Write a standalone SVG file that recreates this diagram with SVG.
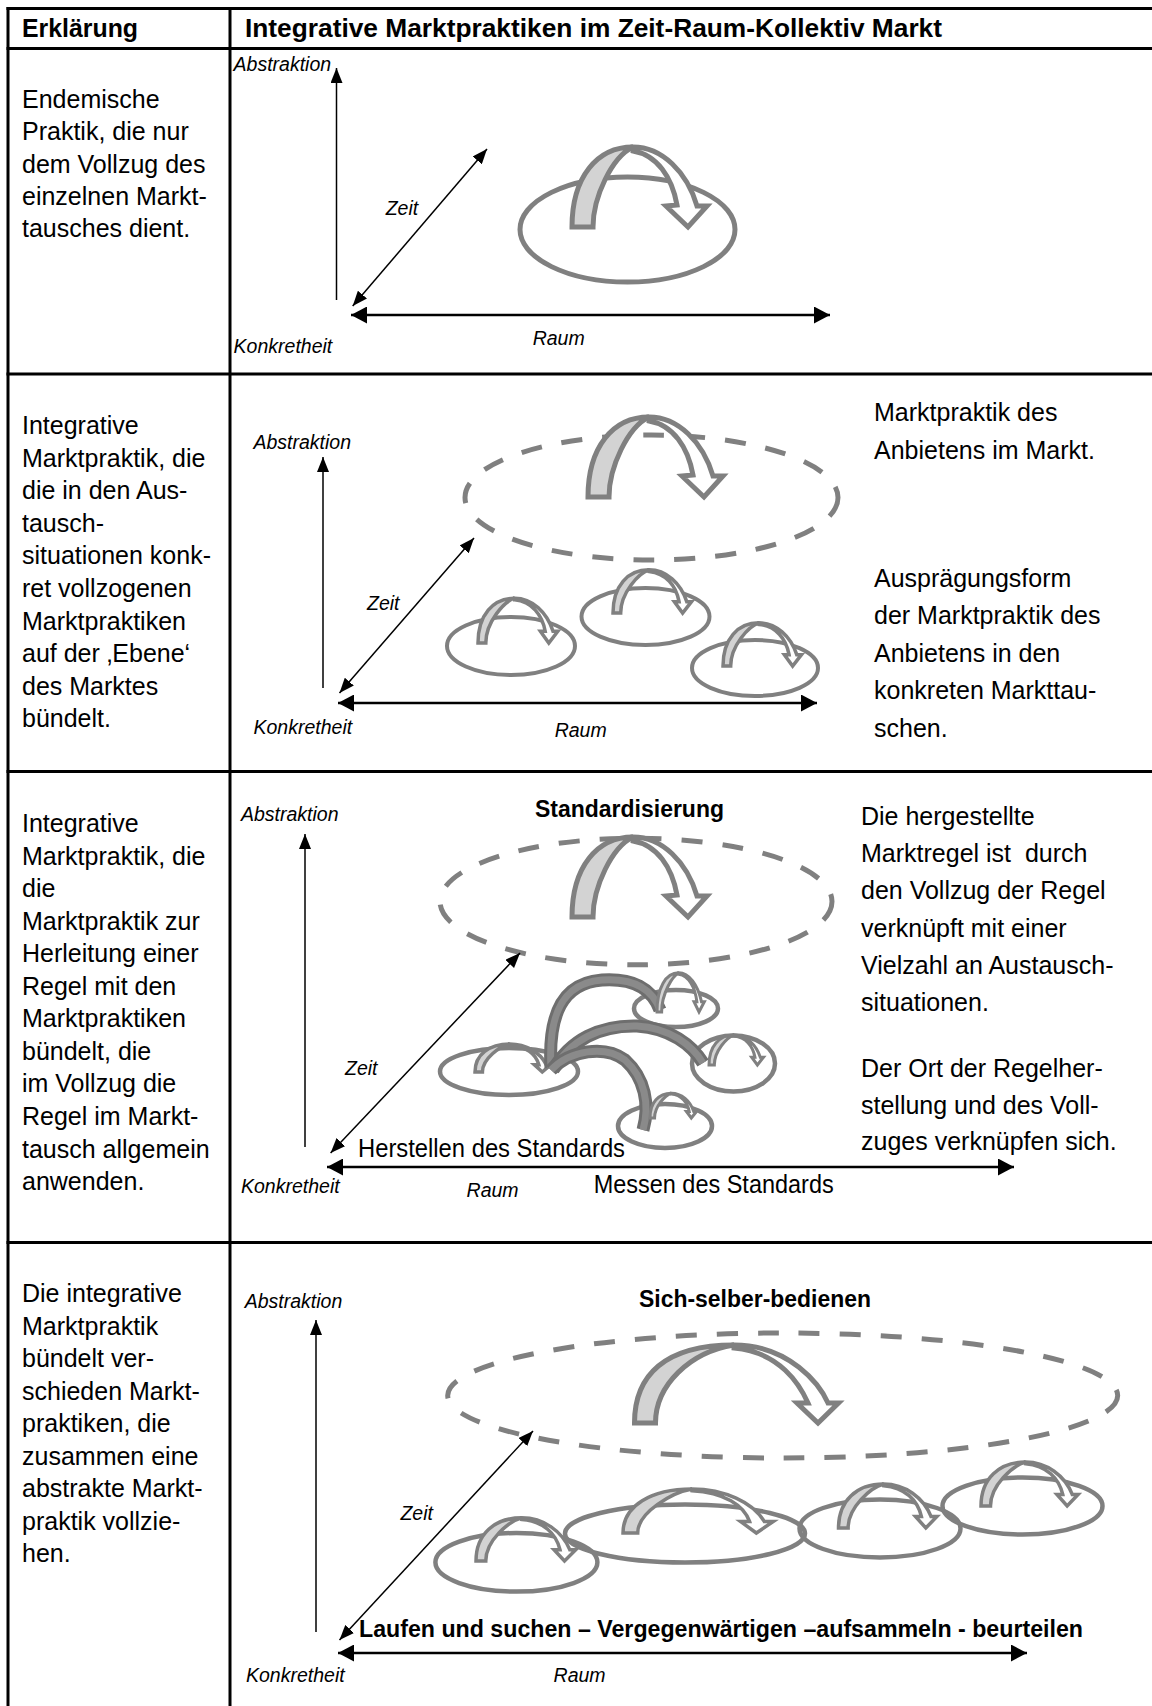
<svg xmlns="http://www.w3.org/2000/svg" xmlns:xlink="http://www.w3.org/1999/xlink" width="1152" height="1706" viewBox="0 0 1152 1706">
<style>
.t{font-family:"Liberation Sans",Arial,sans-serif;font-size:25px;fill:#000}
.i{font-family:"Liberation Sans",Arial,sans-serif;font-size:19.5px;font-style:italic;fill:#000}
.b{font-family:"Liberation Sans",Arial,sans-serif;font-size:23px;font-weight:bold;fill:#000}
.h{font-family:"Liberation Sans",Arial,sans-serif;font-size:26px;font-weight:bold;fill:#000}
.grid{stroke:#000;stroke-width:3;fill:none}
.ax{stroke:#000;stroke-width:1.5;fill:none}
.rx{stroke:#000;stroke-width:2.7;fill:none}
.el{fill:none;stroke:#808080}
.ds{fill:none;stroke:#808080;stroke-width:5;stroke-dasharray:21 20}
.band{fill:none;stroke:#6e6e6e;stroke-width:13}
.bandi{fill:none;stroke:#8a8a8a;stroke-width:7}
</style>
<defs>
<marker id="a" markerUnits="userSpaceOnUse" markerWidth="15" markerHeight="12" refX="15" refY="6" orient="auto-start-reverse"><path d="M0,0 L15,6 L0,12 Z" fill="#000"/></marker>
<marker id="A" markerUnits="userSpaceOnUse" markerWidth="16" markerHeight="17" refX="16" refY="8.5" orient="auto-start-reverse"><path d="M0,0 L16,8.5 L0,17 Z" fill="#000"/></marker>
<g id="archA">
<path d="M0,0 C0,-50 25,-80 61,-80 C40,-70 21,-30 21,0 Z" fill="#d3d3d3" stroke="#808080" vector-effect="non-scaling-stroke"/>
<path d="M61,-80 C90,-80 115,-55 125,-21 L135,-21 L116,0 L94,-21 L105,-22 C100,-50 85,-72 61,-76 Z" fill="#fff" stroke="#808080" vector-effect="non-scaling-stroke"/>
</g>
<g id="archB">
<path d="M0,0 C0,-50 25,-80 61,-80 C44,-74 13,-38 13,0 Z" fill="#d3d3d3" stroke="#808080" vector-effect="non-scaling-stroke"/>
<path d="M61,-80 C90,-80 115,-55 125,-21 L133,-21 L118,0 L104,-21 L112,-21 C107,-50 90,-74 61,-77 Z" fill="#fff" stroke="#808080" vector-effect="non-scaling-stroke"/>
</g>
</defs>
<rect width="1152" height="1706" fill="#fff"/>

<g id="table">
<line class="grid" x1="6.5" y1="8.5" x2="1152" y2="8.5"/>
<line class="grid" x1="6.5" y1="48.5" x2="1152" y2="48.5"/>
<line class="grid" x1="6.5" y1="374" x2="1152" y2="374"/>
<line class="grid" x1="6.5" y1="771.5" x2="1152" y2="771.5"/>
<line class="grid" x1="6.5" y1="1242.5" x2="1152" y2="1242.5"/>
<line class="grid" x1="8" y1="7" x2="8" y2="1706"/>
<line class="grid" x1="230" y1="7" x2="230" y2="1706"/>
<text class="h" x="22" y="37" textLength="116" lengthAdjust="spacingAndGlyphs">Erklärung</text>
<text class="h" x="245" y="37" textLength="697" lengthAdjust="spacingAndGlyphs">Integrative Marktpraktiken im Zeit-Raum-Kollektiv Markt</text>
</g>

<g id="row1-text">
<text class="t" x="22" y="108"><tspan x="22">Endemische</tspan><tspan x="22" dy="32.3">Praktik, die nur</tspan><tspan x="22" dy="32.3">dem Vollzug des</tspan><tspan x="22" dy="32.3">einzelnen Markt-</tspan><tspan x="22" dy="32.3">tausches dient.</tspan></text>
</g>
<g id="row2-text">
<text class="t" x="22" y="434"><tspan x="22">Integrative</tspan><tspan x="22" dy="32.6">Marktpraktik, die</tspan><tspan x="22" dy="32.6">die in den Aus-</tspan><tspan x="22" dy="32.6">tausch-</tspan><tspan x="22" dy="32.6">situationen konk-</tspan><tspan x="22" dy="32.6">ret vollzogenen</tspan><tspan x="22" dy="32.6">Marktpraktiken</tspan><tspan x="22" dy="32.6">auf der ‚Ebene‘</tspan><tspan x="22" dy="32.6">des Marktes</tspan><tspan x="22" dy="32.6">bündelt.</tspan></text>
<text class="t" x="874" y="421"><tspan x="874">Marktpraktik des</tspan><tspan x="874" dy="37.7">Anbietens im Markt.</tspan></text>
<text class="t" x="874" y="587"><tspan x="874">Ausprägungsform</tspan><tspan x="874" dy="37.4">der Marktpraktik des</tspan><tspan x="874" dy="37.4">Anbietens in den</tspan><tspan x="874" dy="37.4">konkreten Markttau-</tspan><tspan x="874" dy="37.4">schen.</tspan></text>
</g>
<g id="row3-text">
<text class="t" x="22" y="832"><tspan x="22">Integrative</tspan><tspan x="22" dy="32.55">Marktpraktik, die</tspan><tspan x="22" dy="32.55">die</tspan><tspan x="22" dy="32.55">Marktpraktik zur</tspan><tspan x="22" dy="32.55">Herleitung einer</tspan><tspan x="22" dy="32.55">Regel mit den</tspan><tspan x="22" dy="32.55">Marktpraktiken</tspan><tspan x="22" dy="32.55">bündelt, die</tspan><tspan x="22" dy="32.55">im Vollzug die</tspan><tspan x="22" dy="32.55">Regel im Markt-</tspan><tspan x="22" dy="32.55">tausch allgemein</tspan><tspan x="22" dy="32.55">anwenden.</tspan></text>
<text class="t" x="861" y="825" style="white-space:pre"><tspan x="861">Die hergestellte</tspan><tspan x="861" dy="37.2">Marktregel ist  durch</tspan><tspan x="861" dy="37.2">den Vollzug der Regel</tspan><tspan x="861" dy="37.2">verknüpft mit einer</tspan><tspan x="861" dy="37.2">Vielzahl an Austausch-</tspan><tspan x="861" dy="37.2">situationen.</tspan></text>
<text class="t" x="861" y="1077"><tspan x="861">Der Ort der Regelher-</tspan><tspan x="861" dy="36.5">stellung und des Voll-</tspan><tspan x="861" dy="36.5">zuges verknüpfen sich.</tspan></text>
</g>
<g id="row4-text">
<text class="t" x="22" y="1302"><tspan x="22">Die integrative</tspan><tspan x="22" dy="32.5">Marktpraktik</tspan><tspan x="22" dy="32.5">bündelt ver-</tspan><tspan x="22" dy="32.5">schieden Markt-</tspan><tspan x="22" dy="32.5">praktiken, die</tspan><tspan x="22" dy="32.5">zusammen eine</tspan><tspan x="22" dy="32.5">abstrakte Markt-</tspan><tspan x="22" dy="32.5">praktik vollzie-</tspan><tspan x="22" dy="32.5">hen.</tspan></text>
</g>

<!-- Row 1 diagram -->
<g id="r1-shapes">
<ellipse class="el" stroke-width="5" cx="627.5" cy="229.5" rx="107.5" ry="52.5"/>
<use xlink:href="#archA" transform="translate(572,227)" stroke-width="5"/>
</g>
<!-- Row 2 diagram -->
<g id="r2-shapes">
<ellipse class="ds" cx="651.5" cy="497.5" rx="186.5" ry="62.5"/>
<use xlink:href="#archA" transform="translate(588,497)" stroke-width="5"/>
<ellipse class="el" stroke-width="4" cx="511" cy="646" rx="64" ry="29"/>
<use xlink:href="#archB" transform="translate(478,643) scale(0.6,0.56)" stroke-width="3.5"/>
<ellipse class="el" stroke-width="4" cx="645.5" cy="616.5" rx="64" ry="28.5"/>
<use xlink:href="#archB" transform="translate(613,613) scale(0.59,0.54)" stroke-width="3.5"/>
<ellipse class="el" stroke-width="4" cx="755" cy="668" rx="63" ry="28"/>
<use xlink:href="#archB" transform="translate(723,666) scale(0.59,0.54)" stroke-width="3.5"/>
</g>
<!-- Row 3 diagram -->
<g id="r3-shapes">
<ellipse class="ds" cx="636" cy="901.5" rx="196" ry="63.3"/>
<use xlink:href="#archA" transform="translate(572,917)" stroke-width="5"/>
<ellipse class="el" stroke-width="4.5" cx="509" cy="1071.5" rx="69" ry="23.5"/>
<ellipse class="el" stroke-width="4.5" cx="676" cy="1008.5" rx="42" ry="18.5"/>
<ellipse class="el" stroke-width="4.5" cx="733.5" cy="1063.5" rx="41.5" ry="28"/>
<ellipse class="el" stroke-width="4.5" cx="665" cy="1126" rx="47" ry="22"/>
<use xlink:href="#archB" transform="translate(475,1072) scale(0.57,0.35)" stroke-width="3.5"/>
<path class="band" d="M551,1068 C548,1015 562,983 602,980 C632,978 652,988 660,1010"/>
<path class="bandi" d="M551,1068 C548,1015 562,983 602,980 C632,978 652,988 660,1010"/>
<path class="band" d="M553,1070 C570,1040 600,1025 637,1026 C670,1028 692,1045 703,1063"/>
<path class="bandi" d="M553,1070 C570,1040 600,1025 637,1026 C670,1028 692,1045 703,1063"/>
<path class="band" d="M551,1070 C570,1050 605,1045 625,1060 C645,1078 650,1105 643,1130"/>
<path class="bandi" d="M551,1070 C570,1050 605,1045 625,1060 C645,1078 650,1105 643,1130"/>
<use xlink:href="#archB" transform="translate(657,1012) scale(0.356,0.49)" stroke-width="3"/>
<use xlink:href="#archB" transform="translate(709,1065) scale(0.41,0.375)" stroke-width="3"/>
<use xlink:href="#archB" transform="translate(650,1118) scale(0.35,0.31)" stroke-width="3"/>
</g>
<!-- Row 4 diagram -->
<g id="r4-shapes">
<ellipse class="ds" cx="782.7" cy="1395.5" rx="335" ry="62.5"/>
<path d="M634.5,1423 C634.5,1375 665,1345 734,1345 C690,1352 655.5,1385 655.5,1423 Z" fill="#d3d3d3" stroke="#808080" stroke-width="5"/>
<path d="M734,1345 C790,1345 820,1385 828,1403 L838.5,1403 L818,1423 L797,1403 L808,1403 C800,1385 780,1352 734,1348 Z" fill="#fff" stroke="#808080" stroke-width="5"/>
<ellipse class="el" stroke-width="4.5" cx="516.4" cy="1562.3" rx="81" ry="29.3"/>
<use xlink:href="#archB" transform="translate(476,1561) scale(0.75,0.54)" stroke-width="3.5"/>
<ellipse class="el" stroke-width="4.5" cx="685" cy="1533.5" rx="120" ry="29"/>
<use xlink:href="#archB" transform="translate(623,1533) scale(1.13,0.55)" stroke-width="3.5"/>
<ellipse class="el" stroke-width="4.5" cx="880" cy="1528.5" rx="80.5" ry="29"/>
<use xlink:href="#archB" transform="translate(838.5,1528) scale(0.74,0.55)" stroke-width="3.5"/>
<ellipse class="el" stroke-width="4.5" cx="1022.5" cy="1506" rx="80" ry="28.5"/>
<use xlink:href="#archB" transform="translate(981,1506) scale(0.73,0.55)" stroke-width="3.5"/>
</g>

<g id="connectors">
<line class="ax" x1="336.5" y1="300" x2="336.5" y2="68" marker-end="url(#a)"/>
<line class="ax" x1="352.7" y1="306" x2="487" y2="149" marker-start="url(#a)" marker-end="url(#a)"/>
<line class="rx" x1="351" y1="315" x2="830" y2="315" marker-start="url(#A)" marker-end="url(#A)"/>
<line class="ax" x1="323" y1="688" x2="323" y2="457" marker-end="url(#a)"/>
<line class="ax" x1="339.5" y1="693" x2="474" y2="538" marker-start="url(#a)" marker-end="url(#a)"/>
<line class="rx" x1="338" y1="703" x2="817" y2="703" marker-start="url(#A)" marker-end="url(#A)"/>
<line class="ax" x1="305" y1="1147" x2="305" y2="834" marker-end="url(#a)"/>
<line class="ax" x1="330.6" y1="1153" x2="520" y2="953" marker-start="url(#a)" marker-end="url(#a)"/>
<line class="rx" x1="327" y1="1167" x2="1014" y2="1167" marker-start="url(#A)" marker-end="url(#A)"/>
<line class="ax" x1="316" y1="1632" x2="316" y2="1320" marker-end="url(#a)"/>
<line class="ax" x1="339.5" y1="1640" x2="533" y2="1431" marker-start="url(#a)" marker-end="url(#a)"/>
<line class="rx" x1="338" y1="1653" x2="1027" y2="1653" marker-start="url(#A)" marker-end="url(#A)"/>
</g>

<g id="labels">
<text class="i" x="233.6" y="70.7">Abstraktion</text>
<text class="i" x="385.7" y="215">Zeit</text>
<text class="i" x="532.7" y="345">Raum</text>
<text class="i" x="233.6" y="353">Konkretheit</text>
<text class="i" x="253.5" y="449">Abstraktion</text>
<text class="i" x="367" y="610">Zeit</text>
<text class="i" x="253.5" y="734">Konkretheit</text>
<text class="i" x="554.7" y="737">Raum</text>
<text class="i" x="241" y="821">Abstraktion</text>
<text class="i" x="345" y="1075">Zeit</text>
<text class="i" x="241" y="1193">Konkretheit</text>
<text class="i" x="466.6" y="1197">Raum</text>
<text class="b" x="535" y="817" textLength="189" lengthAdjust="spacingAndGlyphs">Standardisierung</text>
<text class="t" x="358" y="1157" textLength="267" lengthAdjust="spacingAndGlyphs">Herstellen des Standards</text>
<text class="t" x="593.7" y="1193" textLength="240" lengthAdjust="spacingAndGlyphs">Messen des Standards</text>
<text class="i" x="244.7" y="1308">Abstraktion</text>
<text class="i" x="400.4" y="1520">Zeit</text>
<text class="i" x="246" y="1682">Konkretheit</text>
<text class="i" x="553.6" y="1682">Raum</text>
<text class="b" x="639" y="1307" textLength="232" lengthAdjust="spacingAndGlyphs">Sich-selber-bedienen</text>
<text class="b" x="359" y="1637" textLength="724" lengthAdjust="spacingAndGlyphs">Laufen und suchen – Vergegenwärtigen –aufsammeln - beurteilen</text>
</g>
</svg>
